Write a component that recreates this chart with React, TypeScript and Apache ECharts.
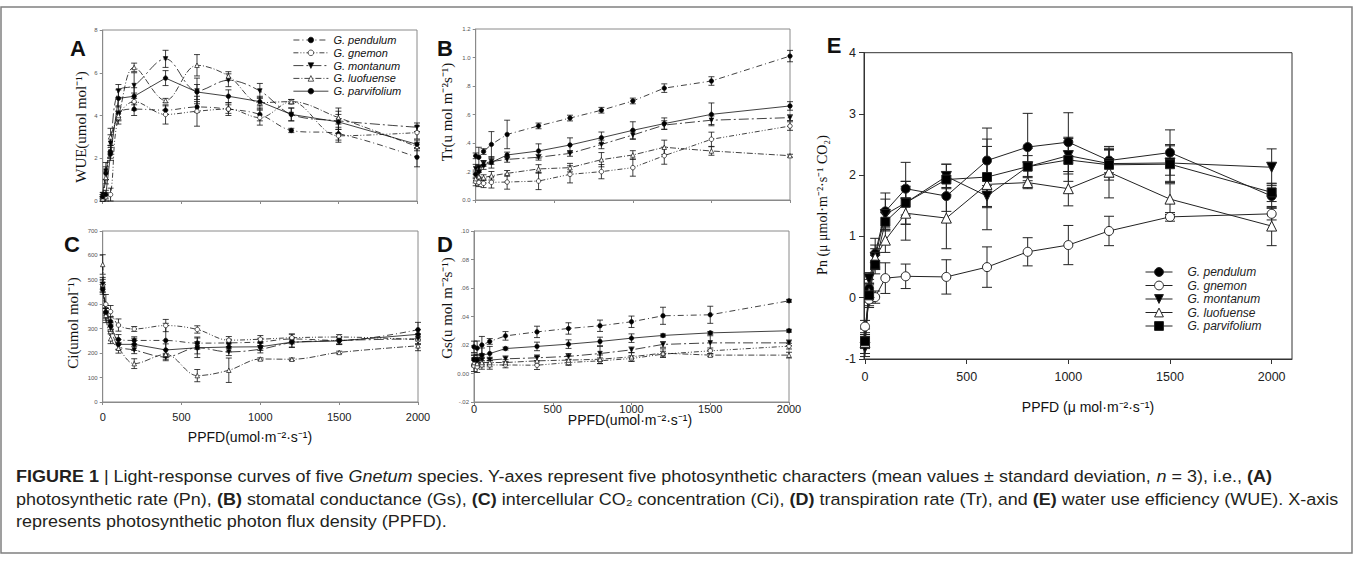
import React, { useEffect, useRef } from "react";
import * as echarts from "echarts";

// ---------- data ----------
const PPFD = [0, 20, 50, 100, 200, 400, 600, 800, 1000, 1200, 1500, 2000];
const SPECIES = ["G. pendulum", "G. gnemon", "G. montanum", "G. luofuense", "G. parvifolium"];

// Panel A: WUE
const wuePendulum = [0.2, 1.3, 2.3, 4.1, 4.3, 4.25, 4.4, 4.3, 4.05, 3.3, 3.15, 2.05];
const wueGnemon = [0.1, 0.2, 0.3, 3.9, 4.65, 4.05, 4.2, 4.3, 3.9, 4.65, 3.05, 3.2];
const wueMontanum = [0.3, 1.4, 2.7, 5.15, 5.4, 6.65, 5.15, 5.65, 5.15, 4.05, 3.75, 3.45];
const wueLuofuense = [0.1, 1.1, 3.0, 4.0, 6.25, 4.7, 6.35, 5.85, 4.6, 4.65, 3.9, 2.55];
const wueParvifolium = [0.2, 0.3, 2.2, 4.8, 4.9, 5.75, 5.1, 4.9, 4.65, 4.05, 3.7, 2.65];
const wueErrPendulum = [0.1, 0.3, 0.3, 0.35, 0.3, 0.2, 0.25, 0.2, 0.3, 0.1, 0.3, 0.45];
const wueErrGnemon = [0.1, 0.2, 0.3, 0.3, 0.4, 0.45, 0.7, 0.3, 0.35, 0.1, 0.3, 0.3];
const wueErrMontanum = [0.1, 0.4, 0.4, 0.3, 0.6, 0.4, 0.6, 0.3, 0.35, 0.3, 0.6, 0.2];
const wueErrLuofuense = [0.1, 0.3, 0.4, 0.2, 0.2, 0.1, 0.5, 0.2, 0.3, 0.1, 0.3, 0.2];
const wueErrParvifolium = [0.1, 0.2, 0.3, 0.4, 0.4, 0.35, 0.35, 0.3, 0.2, 0.3, 0.35, 0.2];

// Panel B: Tr
const trPendulum = [0.31, 0.3, 0.34, 0.39, 0.46, 0.52, 0.575, 0.63, 0.695, 0.785, 0.835, 1.01];
const trGnemon = [0.13, 0.124, 0.117, 0.124, 0.126, 0.133, 0.18, 0.199, 0.227, 0.311, 0.426, 0.519];
const trMontanum = [0.22, 0.227, 0.257, 0.27, 0.285, 0.3, 0.327, 0.39, 0.456, 0.526, 0.56, 0.578];
const trLuofuense = [0.15, 0.164, 0.157, 0.17, 0.187, 0.218, 0.227, 0.283, 0.316, 0.37, 0.344, 0.311];
const trParvifolium = [0.18, 0.2, 0.245, 0.264, 0.316, 0.344, 0.386, 0.437, 0.489, 0.536, 0.601, 0.66];
const trErrPendulum = [0.02, 0.07, 0.02, 0.09, 0.1, 0.02, 0.02, 0.02, 0.02, 0.03, 0.03, 0.04];
const trErrGnemon = [0.03, 0.03, 0.03, 0.04, 0.05, 0.06, 0.06, 0.05, 0.06, 0.06, 0.05, 0.03];
const trErrMontanum = [0.03, 0.02, 0.02, 0.02, 0.02, 0.02, 0.02, 0.03, 0.03, 0.03, 0.03, 0.02];
const trErrLuofuense = [0.03, 0.03, 0.02, 0.03, 0.02, 0.03, 0.03, 0.05, 0.03, 0.05, 0.03, 0.01];
const trErrParvifolium = [0.03, 0.04, 0.03, 0.04, 0.02, 0.05, 0.05, 0.04, 0.06, 0.04, 0.08, 0.03];

// Panel C: Ci
const ciPendulum = [470, 365, 330, 256, 252, 252, 241, 242, 246, 258, 252, 296];
const ciGnemon = [480, 400, 370, 315, 299, 313, 297, 253, 257, 263, 266, 255];
const ciMontanum = [482, 363, 304, 229, 213, 184, 222, 205, 216, 243, 252, 259];
const ciLuofuense = [563, 355, 259, 220, 157, 195, 108, 130, 176, 175, 203, 230];
const ciParvifolium = [461, 368, 311, 236, 236, 213, 222, 225, 226, 245, 250, 277];
const ciErrPendulum = [20, 30, 20, 20, 15, 70, 25, 15, 15, 20, 15, 30];
const ciErrGnemon = [30, 40, 25, 25, 10, 25, 15, 15, 15, 15, 10, 20];
const ciErrMontanum = [20, 20, 15, 15, 15, 15, 25, 15, 15, 20, 15, 20];
const ciErrLuofuense = [40, 30, 20, 20, 20, 20, 25, 50, 5, 5, 5, 20];
const ciErrParvifolium = [20, 15, 15, 20, 25, 25, 40, 20, 15, 20, 15, 20];

// Panel D: Gs
const gsPendulum = [0.0187, 0.0178, 0.02, 0.0225, 0.0264, 0.0292, 0.0316, 0.0335, 0.0363, 0.0405, 0.0412, 0.051];
const gsGnemon = [0.0054, 0.0047, 0.006, 0.006, 0.006, 0.0058, 0.0077, 0.0089, 0.0105, 0.0136, 0.0159, 0.0192];
const gsMontanum = [0.0096, 0.0094, 0.0094, 0.0094, 0.0103, 0.011, 0.012, 0.014, 0.0166, 0.0204, 0.0215, 0.0215];
const gsLuofuense = [0.0077, 0.007, 0.0077, 0.0077, 0.0077, 0.0089, 0.0094, 0.01, 0.0117, 0.0143, 0.0129, 0.0129];
const gsParvifolium = [0.0096, 0.0094, 0.0129, 0.014, 0.0175, 0.019, 0.0206, 0.0225, 0.0248, 0.0267, 0.0285, 0.03];
const gsErrPendulum = [0.004, 0.005, 0.006, 0.002, 0.003, 0.004, 0.004, 0.004, 0.004, 0.006, 0.006, 0.001];
const gsErrGnemon = [0.004, 0.004, 0.003, 0.003, 0.002, 0.003, 0.002, 0.002, 0.002, 0.002, 0.002, 0.002];
const gsErrMontanum = [0.003, 0.002, 0.002, 0.002, 0.002, 0.002, 0.002, 0.005, 0.002, 0.002, 0.005, 0.002];
const gsErrLuofuense = [0.003, 0.003, 0.003, 0.003, 0.002, 0.003, 0.003, 0.003, 0.003, 0.003, 0.001, 0.002];
const gsErrParvifolium = [0.004, 0.004, 0.005, 0.005, 0.001, 0.003, 0.003, 0.003, 0.003, 0.001, 0.001, 0.001];

// Panel E: Pn
const pnPendulum = [-0.7, 0.15, 0.72, 1.41, 1.78, 1.66, 2.24, 2.46, 2.54, 2.24, 2.37, 1.66];
const pnGnemon = [-0.47, -0.03, 0.01, 0.32, 0.35, 0.34, 0.5, 0.75, 0.86, 1.09, 1.32, 1.37];
const pnMontanum = [-0.81, 0.31, 0.66, 1.36, 1.55, 1.98, 1.66, 2.14, 2.32, 2.19, 2.2, 2.13];
const pnLuofuense = [-0.73, 0.08, 0.65, 0.94, 1.38, 1.3, 1.85, 1.88, 1.78, 2.05, 1.61, 1.17];
const pnParvifolium = [-0.71, 0.04, 0.54, 1.24, 1.55, 1.93, 1.97, 2.14, 2.25, 2.17, 2.18, 1.72];
const pnErrPendulum = [0.1, 0.15, 0.25, 0.3, 0.43, 0.25, 0.53, 0.55, 0.48, 0.2, 0.37, 0.2];
const pnErrGnemon = [0.1, 0.1, 0.1, 0.25, 0.2, 0.28, 0.33, 0.23, 0.32, 0.24, 0.07, 0.1];
const pnErrMontanum = [0.15, 0.1, 0.2, 0.25, 0.35, 0.2, 0.17, 0.18, 0.3, 0.22, 0.3, 0.3];
const pnErrLuofuense = [0.1, 0.15, 0.15, 0.2, 0.44, 0.5, 0.74, 0.1, 0.28, 0.42, 0.25, 0.32];
const pnErrParvifolium = [0.2, 0.2, 0.15, 0.15, 0.35, 0.25, 0.5, 0.3, 0.35, 0.25, 0.3, 0.15];

const E_X_TICKS = [0, 500, 1000, 1500, 2000];

const CAPTION_LINES = [
  [
    { t: "FIGURE 1", s: "b" },
    { t: " | ", s: "n" },
    { t: "Light-response curves of five ", s: "n" },
    { t: "Gnetum", s: "i" },
    { t: " species. Y-axes represent five photosynthetic characters (mean values \u00b1 standard deviation, ", s: "n" },
    { t: "n", s: "i" },
    { t: " = 3), i.e., ", s: "n" },
    { t: "(A)", s: "b" },
  ],
  [
    { t: "photosynthetic rate (Pn), ", s: "n" },
    { t: "(B)", s: "b" },
    { t: " stomatal conductance (Gs), ", s: "n" },
    { t: "(C)", s: "b" },
    { t: " intercellular CO\u2082 concentration (Ci), ", s: "n" },
    { t: "(D)", s: "b" },
    { t: " transpiration rate (Tr), and ", s: "n" },
    { t: "(E)", s: "b" },
    { t: " water use efficiency (WUE). X-axis", s: "n" },
  ],
  [{ t: "represents photosynthetic photon flux density (PPFD).", s: "n" }],
];

// ---------- layout / styles ----------
const AD_COLOR = "#8a8a8a";
const CAP_SIZE = 16.5;
const CAP_FONT = '"Liberation Sans", Arial, sans-serif';

const AD_STYLE = [
  { symbol: "circle", fill: "#000", rotate: 0, dash: [6, 3, 1, 3] as any },
  { symbol: "circle", fill: "#fff", rotate: 0, dash: [5, 2, 1, 2, 1, 2] as any },
  { symbol: "triangle", fill: "#000", rotate: 180, dash: [10, 3, 2, 3] as any },
  { symbol: "triangle", fill: "#fff", rotate: 0, dash: [6, 2, 1, 2] as any },
  { symbol: "circle", fill: "#000", rotate: 0, dash: "solid" as any },
];
const E_STYLE = [
  { symbol: "circle", fill: "#000", rotate: 0, size: 9 },
  { symbol: "circle", fill: "#fff", rotate: 0, size: 9 },
  { symbol: "triangle", fill: "#000", rotate: 180, size: 10 },
  { symbol: "triangle", fill: "#fff", rotate: 0, size: 10 },
  { symbol: "rect", fill: "#000", rotate: 0, size: 9 },
];

function errRender(cap: number, lw: number, color: string) {
  return (params: any, api: any) => {
    const x = api.value(0);
    const y = api.value(1);
    const e = api.value(2);
    const hi = api.coord([x, y + e]);
    const lo = api.coord([x, y - e]);
    const st = { stroke: color, lineWidth: lw };
    return {
      type: "group",
      children: [
        { type: "line", shape: { x1: hi[0], y1: hi[1], x2: lo[0], y2: lo[1] }, style: st },
        { type: "line", shape: { x1: hi[0] - cap, y1: hi[1], x2: hi[0] + cap, y2: hi[1] }, style: st },
        { type: "line", shape: { x1: lo[0] - cap, y1: lo[1], x2: lo[0] + cap, y2: lo[1] }, style: st },
      ],
    };
  };
}

function panelSeries(key: string, idx: number, values: number[][], errors: number[][], isE: boolean, smooth: boolean) {
  const out: any[] = [];
  values.forEach((vals, k) => {
    out.push({
      type: "custom",
      name: "err" + key + k,
      xAxisIndex: idx,
      yAxisIndex: idx,
      silent: true,
      z: 2,
      encode: { x: 0, y: 1 },
      renderItem: isE ? errRender(5, 1, "#222") : errRender(3, 0.8, "#111"),
      data: PPFD.map((x, i) => [x, vals[i], errors[k][i]]),
    });
    const st: any = isE ? E_STYLE[k] : AD_STYLE[k];
    out.push({
      type: "line",
      name: key + ":" + SPECIES[k],
      xAxisIndex: idx,
      yAxisIndex: idx,
      z: 3,
      silent: true,
      smooth: smooth && k !== 4 ? 0.35 : false,
      symbol: st.symbol,
      symbolSize: isE ? st.size : 4.5,
      symbolRotate: st.rotate,
      showAllSymbol: true,
      lineStyle: { color: isE ? "#222" : "#111", width: isE ? 1 : 0.8, type: isE ? "solid" : st.dash },
      itemStyle: { color: st.fill, borderColor: isE ? "#222" : "#111", borderWidth: isE ? 1 : 0.7 },
      emphasis: { disabled: true },
      data: PPFD.map((x, i) => [x, vals[i]]),
    });
  });
  return out;
}

const plain = (v: number) => String(v);

function adX(grid: number, showLabels: boolean, margin: number) {
  return {
    gridIndex: grid,
    type: "value",
    min: 0,
    max: 2000,
    interval: 500,
    axisLine: { show: true, onZero: false, lineStyle: { color: AD_COLOR, width: 1 } },
    axisTick: { show: true, length: 3, lineStyle: { color: AD_COLOR } },
    axisLabel: { show: showLabels, fontSize: 11, color: "#222", fontFamily: "Liberation Sans", margin, formatter: plain },
    splitLine: { show: false },
  };
}
function adY(grid: number, min: number, max: number, interval: number, formatter?: any) {
  return {
    gridIndex: grid,
    type: "value",
    min,
    max,
    interval,
    axisLine: { show: true, onZero: false, lineStyle: { color: AD_COLOR, width: 1 } },
    axisTick: { show: true, length: 3, lineStyle: { color: AD_COLOR } },
    axisLabel: { fontSize: 6, color: "#555", fontFamily: "Liberation Sans", margin: 5, formatter: formatter || plain },
    splitLine: { show: false },
  };
}

const fmtB = (v: number) => (Math.abs(v) < 1e-9 ? "0.0" : v >= 1 ? v.toFixed(1) : v.toFixed(1).replace(/^0/, ""));
const fmtD = (v: number) => {
  if (Math.abs(v) < 1e-9) return "0.00";
  const s = Math.abs(v).toFixed(2).replace(/^0/, "");
  return (v < 0 ? "-" : "") + s;
};

function measureLine(segs: { t: string; s: string }[]) {
  const ctx = document.createElement("canvas").getContext("2d")!;
  let w = 0;
  for (const seg of segs) {
    const style = seg.s === "b" ? "bold " : seg.s === "i" ? "italic " : "";
    ctx.font = `${style}${CAP_SIZE}px ${CAP_FONT}`;
    w += ctx.measureText(seg.t).width;
  }
  return w;
}

function yTitle(x: number, y: number, text: string, size: number) {
  return {
    type: "text",
    x,
    y,
    rotation: Math.PI / 2,
    style: {
      text,
      fill: "#111",
      fontSize: size,
      fontFamily: '"Liberation Serif", "Times New Roman", serif',
      align: "center",
      verticalAlign: "middle",
    },
  };
}
function plainText(x: number, y: number, text: string, size: number, weight = "normal", family = CAP_FONT) {
  return {
    type: "text",
    x,
    y,
    style: { text, fill: "#111", fontSize: size, fontWeight: weight, fontFamily: family, align: "center", verticalAlign: "middle" },
  };
}

function buildOption() {
  const grids = [
    { left: 102.7, top: 30, width: 314.3, height: 171 },
    { left: 475.7, top: 29, width: 314.3, height: 171 },
    { left: 102.7, top: 231, width: 315.3, height: 171 },
    { left: 474, top: 231, width: 315, height: 171 },
    { left: 864, top: 52.7, width: 428, height: 306.3 },
  ].map((g, i) => ({
    ...g,
    show: true,
    borderColor: i === 4 ? "#333" : AD_COLOR,
    borderWidth: 1,
    backgroundColor: "transparent",
  }));

  const xAxis: any[] = [
    adX(0, false, 8),
    adX(1, false, 8),
    adX(2, true, 9),
    adX(3, true, 1),
    {
      gridIndex: 4,
      type: "value",
      min: -5,
      max: 2100,
      axisLine: { show: true, onZero: false, lineStyle: { color: "#333" } },
      axisTick: { show: true, length: 5, lineStyle: { color: "#333" }, customValues: E_X_TICKS },
      axisLabel: { fontSize: 12.5, color: "#222", fontFamily: "Liberation Sans", margin: 11, customValues: E_X_TICKS, formatter: plain },
      splitLine: { show: false },
    },
  ];
  const yAxis: any[] = [
    adY(0, 0, 8, 2),
    adY(1, 0, 1.2, 0.2, fmtB),
    adY(2, 0, 700, 100),
    adY(3, -0.02, 0.1, 0.02, fmtD),
    {
      gridIndex: 4,
      type: "value",
      min: -1,
      max: 4,
      interval: 1,
      axisLine: { show: true, onZero: false, lineStyle: { color: "#333" } },
      axisTick: { show: true, length: 5, lineStyle: { color: "#333" } },
      axisLabel: { fontSize: 12.5, color: "#222", fontFamily: "Liberation Sans", margin: 8, formatter: plain },
      splitLine: { show: false },
    },
  ];

  const series = [
    ...panelSeries("A", 0, [wuePendulum, wueGnemon, wueMontanum, wueLuofuense, wueParvifolium],
      [wueErrPendulum, wueErrGnemon, wueErrMontanum, wueErrLuofuense, wueErrParvifolium], false, true),
    ...panelSeries("B", 1, [trPendulum, trGnemon, trMontanum, trLuofuense, trParvifolium],
      [trErrPendulum, trErrGnemon, trErrMontanum, trErrLuofuense, trErrParvifolium], false, false),
    ...panelSeries("C", 2, [ciPendulum, ciGnemon, ciMontanum, ciLuofuense, ciParvifolium],
      [ciErrPendulum, ciErrGnemon, ciErrMontanum, ciErrLuofuense, ciErrParvifolium], false, true),
    ...panelSeries("D", 3, [gsPendulum, gsGnemon, gsMontanum, gsLuofuense, gsParvifolium],
      [gsErrPendulum, gsErrGnemon, gsErrMontanum, gsErrLuofuense, gsErrParvifolium], false, false),
    ...panelSeries("E", 4, [pnPendulum, pnGnemon, pnMontanum, pnLuofuense, pnParvifolium],
      [pnErrPendulum, pnErrGnemon, pnErrMontanum, pnErrLuofuense, pnErrParvifolium], true, false),
  ];

  const legend = [
    {
      orient: "vertical",
      left: 293,
      top: 34,
      padding: 0,
      itemWidth: 35,
      itemHeight: 7,
      itemGap: 0.8,
      selectedMode: false,
      data: SPECIES.map((s) => "A:" + s),
      formatter: (n: string) => n.slice(2),
      lineStyle: { width: 0.8 },
      itemStyle: { borderWidth: 0.7 },
      textStyle: { fontStyle: "italic", fontSize: 11, lineHeight: 12, color: "#111", fontFamily: "Liberation Sans" },
    },
    {
      orient: "vertical",
      left: 1145,
      top: 265.5,
      padding: 0,
      itemWidth: 27,
      itemHeight: 11,
      itemGap: 0.5,
      selectedMode: false,
      data: SPECIES.map((s) => "E:" + s),
      formatter: (n: string) => n.slice(2),
      lineStyle: { width: 1 },
      itemStyle: { borderWidth: 1 },
      textStyle: {
        fontStyle: "italic",
        fontSize: 12,
        lineHeight: 13,
        color: "#222",
        fontFamily: "Liberation Sans",
        padding: [0, 0, 0, 10],
      },
    },
  ];

  // caption
  const widths = CAPTION_LINES.map(measureLine);
  const scale = 1322 / widths[1];
  const rich = {
    n: { fontSize: CAP_SIZE, fontFamily: CAP_FONT, fill: "#231f20" },
    b: { fontSize: CAP_SIZE, fontFamily: CAP_FONT, fontWeight: "bold", fill: "#231f20" },
    i: { fontSize: CAP_SIZE, fontFamily: CAP_FONT, fontStyle: "italic", fill: "#231f20" },
  };
  const capY = [476, 499, 521];
  const captionEls = CAPTION_LINES.map((segs, li) => ({
    type: "text",
    x: 16,
    y: capY[li],
    scaleX: scale,
    style: {
      text: segs.map((sg) => `{${sg.s}|${sg.t}}`).join(""),
      rich,
      fontSize: CAP_SIZE,
      fontFamily: CAP_FONT,
      fill: "#231f20",
      align: "left",
      verticalAlign: "middle",
    },
  }));

  const SANS_N = '"Liberation Sans", Arial, sans-serif';
  const graphic = [
    {
      type: "rect",
      shape: { x: 1, y: 7, width: 1351, height: 546 },
      style: { fill: "none", stroke: "#808080", lineWidth: 1.5 },
      silent: true,
    },
    plainText(78, 48, "A", 22, "bold"),
    plainText(445, 48, "B", 22, "bold"),
    plainText(72, 244, "C", 22, "bold"),
    plainText(445, 244, "D", 22, "bold"),
    plainText(834, 45, "E", 22, "bold"),
    yTitle(81, 127, "WUE(umol mol\u207b\u00b9)", 15),
    yTitle(447, 112, "Tr(u mol m\u207b\u00b2s\u207b\u00b9)", 15),
    yTitle(73, 323, "Ci(umol mol\u207b\u00b9)", 15),
    yTitle(447, 308, "Gs(u mol m\u207b\u00b2s\u207b\u00b9)", 15),
    yTitle(822, 205, "Pn (\u03bc \u03bcmol\u00b7m\u207b\u00b2\u00b7s\u207b\u00b9 CO\u2082)", 14),
    plainText(250, 437, "PPFD(umol\u00b7m\u207b\u00b2\u00b7s\u207b\u00b9)", 14, "normal", SANS_N),
    plainText(630, 420, "PPFD(umol\u00b7m\u207b\u00b2\u00b7s\u207b\u00b9)", 14, "normal", SANS_N),
    plainText(1088, 407, "PPFD (\u03bc mol\u00b7m\u207b\u00b2\u00b7s\u207b\u00b9)", 14, "normal", SANS_N),
    ...captionEls,
  ];

  return {
    animation: false,
    backgroundColor: "#fff",
    grid: grids,
    xAxis,
    yAxis,
    legend,
    series,
    graphic,
  };
}

export default function App() {
  const ref = useRef<HTMLDivElement>(null);
  useEffect(() => {
    const chart = echarts.init(ref.current!, undefined, { renderer: "svg" });
    chart.setOption(buildOption() as any);
    return () => chart.dispose();
  }, []);
  return (
    <div
      ref={ref}
      style={{ position: "absolute", left: 0, top: 0, width: 1358, height: 561, background: "#fff" }}
    />
  );
}
